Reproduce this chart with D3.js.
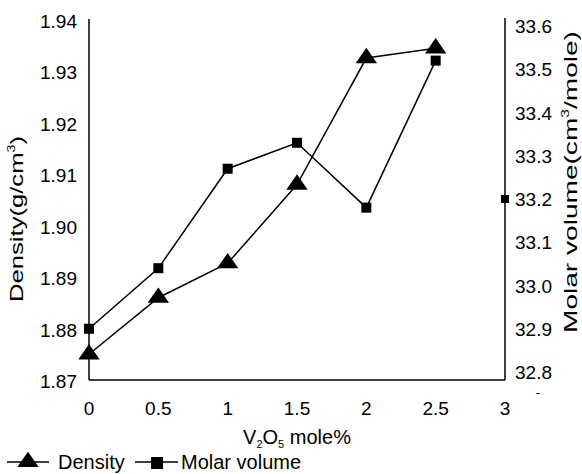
<!DOCTYPE html>
<html>
<head>
<meta charset="utf-8">
<script src="https://cdn.jsdelivr.net/npm/d3@7"></script>
<style>
  html, body { margin: 0; padding: 0; background: #fff; }
  svg { display: block; }
  text { font-family: "Liberation Sans", Arial, sans-serif; fill: #000; }
</style>
</head>
<body>
<svg id="chart" width="582" height="474"></svg>
<script>
// ---- data ----
const xValues = [0, 0.5, 1, 1.5, 2, 2.5];
const density = [1.875, 1.886, 1.8927, 1.908, 1.9326, 1.9345];
const molarVolume = [32.90, 33.04, 33.27, 33.33, 33.18, 33.52];
const extraMolarPoint = [{ x: 3, v: 33.2 }];
const xTicks = [0, 0.5, 1, 1.5, 2, 2.5, 3];
const densityTicks = [1.87, 1.88, 1.89, 1.90, 1.91, 1.92, 1.93, 1.94];
const molarTicks = [32.8, 32.9, 33.0, 33.1, 33.2, 33.3, 33.4, 33.5, 33.6];

const svg = d3.select("#chart");

const x = d3.scaleLinear().domain([0, 3]).range([89, 505]);
const yL = d3.scaleLinear().domain([1.87, 1.94]).range([380, 20]);
const yR = d3.scaleLinear().domain([32.8, 33.6]).range([372, 26]);

// axes frame
const g = svg.append("g").attr("stroke", "#000").attr("stroke-width", 1.5).attr("fill", "none");
g.append("line").attr("x1", x(0)).attr("x2", x(0)).attr("y1", 19).attr("y2", 380);
g.append("line").attr("x1", x(0)).attr("x2", x(3)).attr("y1", 380).attr("y2", 380);
g.append("line").attr("x1", x(3)).attr("x2", x(3)).attr("y1", 18).attr("y2", 380);

// left ticks
svg.append("g").selectAll("text").data(densityTicks).join("text")
  .attr("x", 77).attr("y", d => yL(d) + 8)
  .attr("text-anchor", "end").attr("font-size", 19)
  .text(d => d.toFixed(2));

// right ticks
svg.append("g").selectAll("text").data(molarTicks).join("text")
  .attr("x", 515).attr("y", d => yR(d) + 7)
  .attr("text-anchor", "start").attr("font-size", 19)
  .text(d => d.toFixed(1));
svg.append("text").attr("x", 538).attr("y", 397).attr("text-anchor", "middle")
  .attr("font-size", 13).text("-");

// x ticks
svg.append("g").selectAll("text").data(xTicks).join("text")
  .attr("x", d => x(d)).attr("y", 415)
  .attr("text-anchor", "middle").attr("font-size", 19)
  .text(d => String(d));

// x title
const xt = svg.append("text").attr("x", 297).attr("y", 444)
  .attr("text-anchor", "middle").attr("font-size", 20);
xt.append("tspan").text("V");
xt.append("tspan").attr("font-size", 11).attr("dy", 4).text("2");
xt.append("tspan").attr("dy", -4).text("O");
xt.append("tspan").attr("font-size", 11).attr("dy", 4).text("5");
xt.append("tspan").attr("dy", -4).text(" mole%");

// left title
const lt = svg.append("text").attr("transform", "translate(23,219) rotate(-90)")
  .attr("text-anchor", "middle").attr("font-size", 18)
  .attr("textLength", 166).attr("lengthAdjust", "spacingAndGlyphs");
lt.append("tspan").text("Density(g/cm");
lt.append("tspan").attr("font-size", 10).attr("dy", -8).text("3");
lt.append("tspan").attr("dy", 8).text(")");

// right title
const rt = svg.append("text").attr("transform", "translate(577,182) rotate(-90)")
  .attr("text-anchor", "middle").attr("font-size", 18)
  .attr("textLength", 302).attr("lengthAdjust", "spacingAndGlyphs");
rt.append("tspan").text("Molar volume(cm");
rt.append("tspan").attr("font-size", 10).attr("dy", -8).text("3");
rt.append("tspan").attr("dy", 8).text("/mole)");

// lines
const dData = xValues.map((v, i) => ({ x: v, y: density[i] }));
const mData = xValues.map((v, i) => ({ x: v, y: molarVolume[i] }));

svg.append("path").datum(dData)
  .attr("fill", "none").attr("stroke", "#000").attr("stroke-width", 1.5)
  .attr("d", d3.line().x(d => x(d.x)).y(d => yL(d.y)));
svg.append("path").datum(mData)
  .attr("fill", "none").attr("stroke", "#000").attr("stroke-width", 1.5)
  .attr("d", d3.line().x(d => x(d.x)).y(d => yR(d.y)));

const tri = d3.symbol().type(d3.symbolTriangle).size(150);
svg.append("g").selectAll("path").data(dData).join("path")
  .attr("d", tri).attr("fill", "#000")
  .attr("transform", d => `translate(${x(d.x)},${yL(d.y)}) scale(1.15,0.95)`);

svg.append("g").selectAll("rect").data(mData).join("rect")
  .attr("x", d => x(d.x) - 5).attr("y", d => yR(d.y) - 5)
  .attr("width", 10).attr("height", 10).attr("fill", "#000");

svg.append("g").selectAll("rect").data(extraMolarPoint).join("rect")
  .attr("x", d => x(d.x) - 4).attr("y", d => yR(d.v) - 4)
  .attr("width", 8).attr("height", 8).attr("fill", "#000");

// legend
const lg = svg.append("g");
lg.append("line").attr("x1", 7).attr("x2", 49).attr("y1", 462).attr("y2", 462)
  .attr("stroke", "#000").attr("stroke-width", 1.5);
lg.append("path").attr("d", tri).attr("fill", "#000")
  .attr("transform", "translate(28,462) scale(1.15,0.95)");
lg.append("text").attr("x", 58).attr("y", 469).attr("font-size", 20).text("Density");
lg.append("line").attr("x1", 135).attr("x2", 178).attr("y1", 462).attr("y2", 462)
  .attr("stroke", "#000").attr("stroke-width", 1.5);
lg.append("rect").attr("x", 151).attr("y", 457).attr("width", 12).attr("height", 12).attr("fill", "#000");
lg.append("text").attr("x", 181).attr("y", 469).attr("font-size", 20).text("Molar volume");
</script>
</body>
</html>
